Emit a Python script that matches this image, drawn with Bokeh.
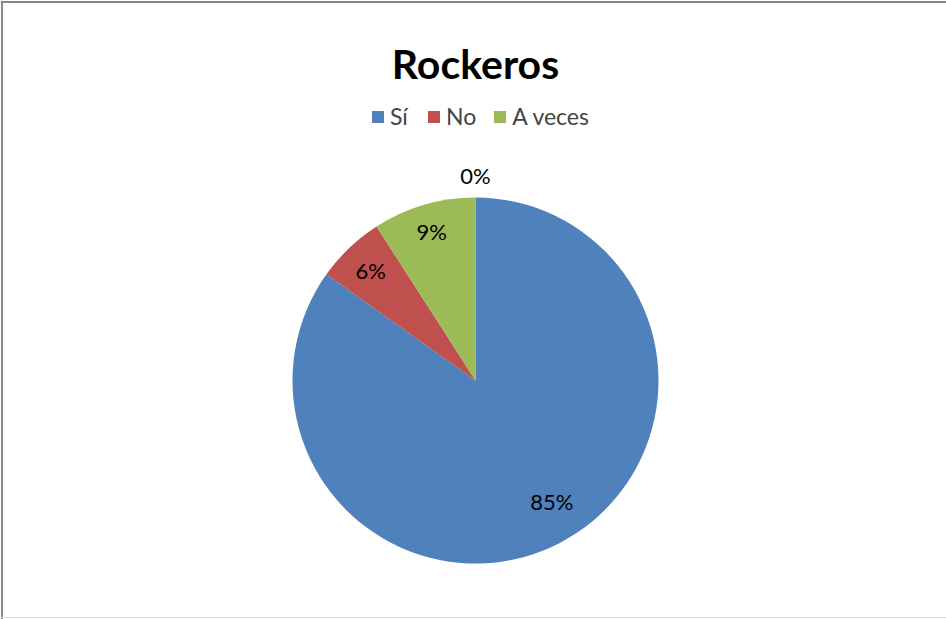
import math
from bokeh.plotting import figure
from bokeh.models import Range1d, Label, Legend, LegendItem, Span, ColumnDataSource
from bokeh.core.properties import value
from bokeh.embed import file_html
from bokeh.resources import INLINE

# ---- data ----
title_text = "Rockeros"
categories = ["Sí", "No", "A veces", ""]
counts = [28, 2, 3, 0]
colors = ["#4F81BD", "#C0504D", "#9BBB59", "#8064A2"]

# ---- layout / style ----
W, H = 946, 619
FONT = "Lato"
cx, cy, R = 475, H - 380, 183
label_r_factor = [0.78, 0.83, 0.85, 1.12]
label_angle_offset_deg = [5, 0, 0, 0]

total = sum(counts)
fracs = [c / total for c in counts]
starts, ends, mids = [], [], []
cum = 0.0
for f in fracs:
    s = math.pi / 2 - cum * 2 * math.pi
    e = math.pi / 2 - (cum + f) * 2 * math.pi
    starts.append(s)
    ends.append(e)
    mids.append((s + e) / 2)
    cum += f
mids = [m + math.radians(o) for m, o in zip(mids, label_angle_offset_deg)]

p = figure(width=W, height=H, x_range=Range1d(0, W), y_range=Range1d(0, H),
           output_backend="svg", toolbar_location=None, min_border=0)
p.axis.visible = False
p.grid.visible = False
p.outline_line_color = None
p.background_fill_color = "white"
p.border_fill_color = "white"

keep = [i for i, c in enumerate(counts) if c > 0]
wsrc = ColumnDataSource(dict(
    start=[starts[i] for i in keep], end=[ends[i] for i in keep],
    color=[colors[i] for i in keep], name=[categories[i] for i in keep]))
wr = p.wedge(x=cx, y=cy, radius=R, start_angle="start", end_angle="end",
             direction="clock", fill_color="color", line_color=None, source=wsrc)

lsrc = ColumnDataSource(dict(
    x=[cx + label_r_factor[i] * R * math.cos(mids[i]) for i in range(len(counts))],
    y=[cy + label_r_factor[i] * R * math.sin(mids[i]) for i in range(len(counts))],
    text=[f"{round(f * 100)}%" for f in fracs]))
p.text(x="x", y="y", text="text", source=lsrc, text_font=value(FONT),
       text_font_size="22px", text_align="center", text_baseline="middle",
       text_color="#000000")

p.add_layout(Label(x=cx, y=H - 63, text=title_text, text_font=FONT,
                   text_font_size="41px", text_font_style="bold",
                   text_align="center", text_baseline="alphabetic",
                   text_color="#000000"))

items = [LegendItem(label=categories[i], renderers=[wr], index=k)
         for k, i in enumerate(keep)]
leg = Legend(items=items, orientation="horizontal", location=(370, H - 130),
             label_text_font=FONT, label_text_font_size="23px",
             glyph_width=15, glyph_height=15, label_standoff=5, spacing=16,
             padding=0, margin=0, border_line_color=None,
             background_fill_alpha=0, label_height=20)
p.add_layout(leg, "center")

p.add_layout(Span(location=H - 1.5, dimension="width", line_color="#888888", line_width=2))
p.add_layout(Span(location=1.5, dimension="height", line_color="#888888", line_width=2))
p.add_layout(Span(location=2, dimension="width", line_color="#d9d9d9", line_width=1))

open("out.html", "w").write(file_html(p, INLINE))
